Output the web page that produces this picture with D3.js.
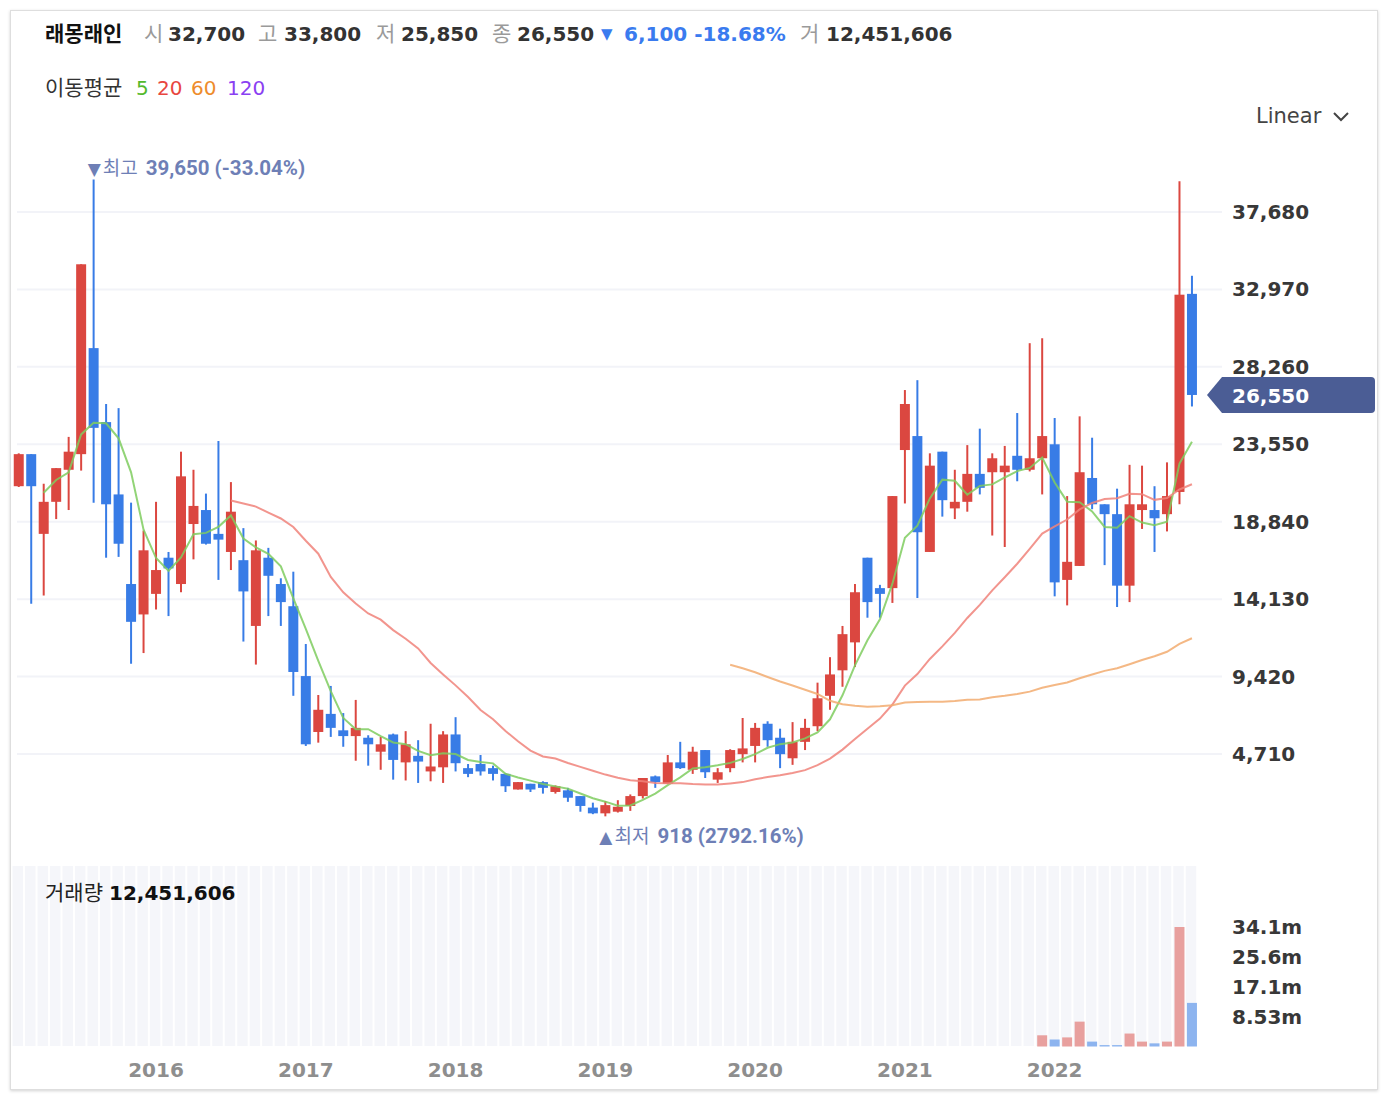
<!DOCTYPE html>
<html>
<head>
<meta charset="utf-8">
<script src="https://cdn.jsdelivr.net/npm/d3@7"></script>
<style>
  body { margin: 0; background: #fff; }
  #card {
    position: absolute; left: 10px; top: 10px; width: 1366px; height: 1078px;
    border: 1px solid #dedede; box-shadow: 0 1px 3px rgba(0,0,0,0.18); background: #fff;
  }
  svg { position: absolute; left: 0; top: 0; }
  text { font-family: "DejaVu Sans", "Noto Sans CJK KR", sans-serif; }
  .kr { font-family: "Noto Sans CJK KR", sans-serif; }
</style>
</head>
<body>
<div id="card"></div>
<svg id="chart" width="1388" height="1100"></svg>
<script>
// monthly candles, Feb 2015 .. Dec 2022
const months = [
  "2015-02","2015-03","2015-04","2015-05","2015-06","2015-07","2015-08","2015-09","2015-10","2015-11","2015-12",
  "2016-01","2016-02","2016-03","2016-04","2016-05","2016-06","2016-07","2016-08","2016-09","2016-10","2016-11","2016-12",
  "2017-01","2017-02","2017-03","2017-04","2017-05","2017-06","2017-07","2017-08","2017-09","2017-10","2017-11","2017-12",
  "2018-01","2018-02","2018-03","2018-04","2018-05","2018-06","2018-07","2018-08","2018-09","2018-10","2018-11","2018-12",
  "2019-01","2019-02","2019-03","2019-04","2019-05","2019-06","2019-07","2019-08","2019-09","2019-10","2019-11","2019-12",
  "2020-01","2020-02","2020-03","2020-04","2020-05","2020-06","2020-07","2020-08","2020-09","2020-10","2020-11","2020-12",
  "2021-01","2021-02","2021-03","2021-04","2021-05","2021-06","2021-07","2021-08","2021-09","2021-10","2021-11","2021-12",
  "2022-01","2022-02","2022-03","2022-04","2022-05","2022-06","2022-07","2022-08","2022-09","2022-10","2022-11","2022-12"
];
const opens = [
  21000,22950,18100,20050,22000,22950,29400,24900,20500,15050,13200,
  14450,16650,15050,18700,19550,18100,17000,16500,12500,16650,15050,13700,
  9450,6050,7150,6150,5800,5700,4850,5900,4200,4600,3650,3900,
  5900,3850,4100,3850,3500,2550,2900,3000,2400,2500,2150,1450,
  1100,1200,1550,2150,3350,2900,4200,3750,4950,3150,3850,4700,
  5200,6550,5700,4450,5450,6400,8250,9800,11500,16650,14800,14800,
  23200,24050,17000,23100,19650,20050,21750,21850,21850,22850,22000,22700,
  23550,15300,16150,21500,19900,19300,14950,19550,19550,19300,20650,32700
];
const highs = [
  23000,22950,21150,22100,24000,34500,39650,26000,25750,20000,18300,
  20050,17000,23100,22000,20550,23750,21250,18450,17700,17250,15400,15800,
  11400,8300,8850,7200,8000,5850,5750,5950,6100,5550,6550,6100,
  6950,4100,4650,4000,3550,3000,2900,3050,2800,2650,2150,1750,
  1850,1900,2250,3250,3400,4650,5450,5150,4950,3850,5000,6900,
  6600,6700,6250,6650,6850,9050,10600,12500,15050,16650,15000,20400,
  26850,27450,23000,23100,22000,23500,24500,23000,23450,25450,29700,30000,
  25150,20400,25250,23950,19900,20850,22300,22250,21000,22450,39550,33800
];
const lows = [
  20950,13850,14350,19000,19550,21950,20000,16650,16700,10200,10850,
  13500,13100,14550,16550,17450,15300,15900,11550,10150,13100,12500,8250,
  5200,5400,5750,5150,4300,4000,3750,3150,3100,2950,3050,2950,
  3650,3300,3400,3100,2400,2550,2400,2300,2300,1800,1200,1050,
  918,1150,1250,2000,2650,2900,3800,3500,3250,2950,3600,4200,
  4200,5150,3850,4050,4950,6100,7400,8800,10000,13000,13000,13900,
  19950,14200,17000,19150,19000,19450,20500,18000,17300,21300,21900,20500,
  14300,13750,16150,19600,16200,13650,13950,18400,17000,18250,19900,25850
];
const closes = [
  22950,21000,20050,22100,23100,34500,24550,19900,17500,12750,17100,
  15900,16000,21600,19800,17500,17750,19450,14600,17100,15550,13950,9700,
  5300,7400,6300,5800,6300,5300,5300,4350,5300,4250,3950,5900,
  4150,3500,3650,3500,2750,3000,2550,2650,2750,2050,1550,1100,
  1600,1500,2150,3250,3000,4200,3850,4850,3600,3600,4950,5050,
  6300,5550,4700,5450,6300,8100,9550,12000,14550,13950,14450,20400,
  26000,18200,22250,20150,20050,21750,20900,22700,22250,22000,22700,24050,
  15150,16400,21850,19900,19300,14950,19900,19900,19050,20400,32650,26550
];
// closes of the two months before the visible range (moving average warm-up)
const priorCloses = [18200, 20800];

// volume is only reported from Dec 2021
const volMonths = ["2021-12","2022-01","2022-02","2022-03","2022-04","2022-05","2022-06",
                   "2022-07","2022-08","2022-09","2022-10","2022-11","2022-12"];
const volumes = [3200000, 2000000, 2600000, 7100000, 1400000, 400000, 400000,
                 3700000, 1400000, 900000, 1400000, 34120000, 12451606];

const priceTicks = [4710, 9420, 14130, 18840, 23550, 28260, 32970, 37680];
const yearTicks = ["2016-01","2017-01","2018-01","2019-01","2020-01","2021-01","2022-01"];
const maPeriods = [5, 20, 60, 120];
const maColors = ["#53b92c", "#e8463f", "#ee8c2c", "#8a40f2"];
const maLineColors = ["#7fcc5f", "#f0837a", "#f2ac70", "#a06cf0"];

const UP = "#db4740", DOWN = "#387ce6";
const UP_V = "#e8a09e", DOWN_V = "#8db4ef";
const LABEL = "#6e7fb6";

const candles = months.map((m, i) => ({
  m, o: opens[i], h: highs[i], l: lows[i], c: closes[i]
}));

// plain hyphen for negative numbers
const locale = d3.formatLocale({decimal: ".", thousands: ",", grouping: [3], currency: ["", ""], minus: "-"});
const fmt = locale.format(",");
const pctFmt = locale.format(".2f");

const svg = d3.select("#chart");

const x = d3.scaleBand().domain(months).range([12.5, 1198.2]).paddingInner(0.2).paddingOuter(0.1);
const bw = x.bandwidth();
const cx = m => x(m) + bw / 2;
const y = d3.scaleLinear().domain([4710, 37680]).range([754, 212]);

// ---- header ----
const last = candles[candles.length - 1];
const prevClose = candles[candles.length - 2].c;
const chg = last.c - prevClose;
const head = svg.append("g");
function htext(xp, str, opts) {
  return head.append("text").attr("x", xp).attr("y", opts.y || 41)
    .attr("class", opts.kr ? "kr" : null)
    .attr("font-size", opts.size || 20)
    .attr("font-weight", opts.bold ? "bold" : "normal")
    .attr("fill", opts.color || "#333")
    .text(str);
}
htext(45, "래몽래인", {kr: true, size: 21, bold: true, color: "#111"});
htext(144, "시", {kr: true, size: 21, color: "#9a9a9a"});
htext(168, fmt(last.o), {bold: true});
htext(258, "고", {kr: true, size: 21, color: "#9a9a9a"});
htext(284, fmt(last.h), {bold: true});
htext(376, "저", {kr: true, size: 21, color: "#9a9a9a"});
htext(401, fmt(last.l), {bold: true});
htext(492, "종", {kr: true, size: 21, color: "#9a9a9a"});
htext(517, fmt(last.c), {bold: true});
htext(601, chg < 0 ? "▼" : "▲", {size: 15, color: "#3a7bef", y: 39});
htext(624, fmt(Math.abs(chg)) + " " + pctFmt(chg / prevClose * 100) + "%", {bold: true, color: "#3a7bef"});
htext(800, "거", {kr: true, size: 21, color: "#9a9a9a"});
htext(826, fmt(volumes[volumes.length - 1]), {bold: true});

// moving average legend
htext(45, "이동평균", {kr: true, size: 21, color: "#333", y: 95});
const legendX = [136, 157, 191, 227];
maPeriods.forEach((p, i) => {
  htext(legendX[i], String(p), {size: 20, color: maColors[i], y: 95});
});

// scale switch
htext(1256, "Linear", {size: 21, color: "#444", y: 123});
svg.append("path").attr("d", "M1334,113 L1341,120 L1348,113")
  .attr("fill", "none").attr("stroke", "#444").attr("stroke-width", 2);

// ---- grid + axis ----
svg.append("g").selectAll("line").data(priceTicks).join("line")
  .attr("x1", 17).attr("x2", 1222)
  .attr("y1", d => y(d)).attr("y2", d => y(d))
  .attr("stroke", "#f2f3f8").attr("stroke-width", 2);

svg.append("g").selectAll("text").data(priceTicks).join("text")
  .attr("x", 1232).attr("y", d => y(d) + 7)
  .attr("font-size", 20).attr("font-weight", "bold").attr("fill", "#383838")
  .text(d => fmt(d));

// ---- candles ----
const cg = svg.append("g");
cg.selectAll("line").data(candles).join("line")
  .attr("x1", d => cx(d.m)).attr("x2", d => cx(d.m))
  .attr("y1", d => y(d.h)).attr("y2", d => y(d.l))
  .attr("stroke", d => d.c >= d.o ? UP : DOWN).attr("stroke-width", 2);
cg.selectAll("rect").data(candles).join("rect")
  .attr("x", d => x(d.m)).attr("width", bw)
  .attr("y", d => y(Math.max(d.o, d.c)))
  .attr("height", d => Math.max(1.5, Math.abs(y(d.o) - y(d.c))))
  .attr("fill", d => d.c >= d.o ? UP : DOWN);

// ---- moving averages ----
const allCloses = priorCloses.concat(closes);
function movingAvg(n) {
  return closes.map((c, i) => {
    const j = i + priorCloses.length;
    if (j < n - 1) return null;
    return d3.mean(allCloses.slice(j - n + 1, j + 1));
  });
}
const line = d3.line()
  .defined(d => d.v != null)
  .x(d => cx(d.m)).y(d => y(d.v));
maPeriods.forEach((p, k) => {
  const vals = movingAvg(p);
  const pts = months.map((m, i) => ({m, v: vals[i]}));
  svg.append("path").datum(pts)
    .attr("d", line)
    .attr("fill", "none")
    .attr("stroke", maLineColors[k])
    .attr("stroke-width", 2)
    .attr("stroke-opacity", 0.85);
});

// ---- high / low annotations ----
const hiIdx = d3.maxIndex(candles, d => d.h);
const loIdx = d3.minIndex(candles, d => d.l);
function annot(idx, val, isHigh, yText) {
  const c = candles[idx];
  const x0 = cx(c.m) - 6;
  const pct = (last.c / val - 1) * 100;
  const t = svg.append("text").attr("x", x0).attr("y", yText).attr("fill", LABEL);
  t.append("tspan").attr("font-size", 17).text(isHigh ? "▼" : "▲");
  t.append("tspan").attr("class", "kr").attr("dx", 2).attr("font-size", 19).text(isHigh ? "최고" : "최저");
  t.append("tspan").attr("dx", 8).attr("font-size", 20.5).attr("font-weight", "bold")
    .style("font-family", "Roboto, sans-serif")
    .text(fmt(val) + " (" + pctFmt(pct) + "%)");
}
annot(hiIdx, candles[hiIdx].h, true, 175);
annot(loIdx, candles[loIdx].l, false, 843);

// ---- current price tag ----
const yc = y(last.c);
svg.append("path")
  .attr("d", `M1207,${yc} L1222,${yc - 18} H1371 Q1375,${yc - 18} 1375,${yc - 14} V${yc + 14} Q1375,${yc + 18} 1371,${yc + 18} H1222 Z`)
  .attr("fill", "#4b5d95");
svg.append("text").attr("x", 1232).attr("y", yc + 8)
  .attr("font-size", 20).attr("font-weight", "bold").attr("fill", "#fff")
  .text(fmt(last.c));

// ---- volume panel ----
const vy = d3.scaleLinear().domain([0, d3.max(volumes)]).range([1046.5, 927]);
svg.append("g").selectAll("rect").data(months).join("rect")
  .attr("x", d => x(d) - 1.2).attr("width", x.step() - 2)
  .attr("y", 866).attr("height", 180)
  .attr("fill", "#f5f6fa");

const vols = volMonths.map((m, i) => ({m, v: volumes[i], c: candles[months.indexOf(m)]}));
svg.append("g").selectAll("rect").data(vols).join("rect")
  .attr("x", d => x(d.m)).attr("width", bw)
  .attr("y", d => vy(d.v)).attr("height", d => vy(0) - vy(d.v))
  .attr("fill", d => d.c.c >= d.c.o ? UP_V : DOWN_V);

const vmax = d3.max(volumes);
const volTicks = [1, 2, 3, 4].map(k => vmax * k / 4);
svg.append("g").selectAll("text").data(volTicks).join("text")
  .attr("x", 1232).attr("y", d => vy(d) + 7)
  .attr("font-size", 20).attr("font-weight", "bold").attr("fill", "#383838")
  .text(d => d3.format(".3s")(d).replace("M", "m"));

const vt = svg.append("text").attr("x", 45).attr("y", 900);
vt.append("tspan").attr("class", "kr").attr("font-size", 21).attr("fill", "#222").text("거래량");
vt.append("tspan").attr("dx", 6).attr("font-size", 20).attr("font-weight", "bold").attr("fill", "#111")
  .text(fmt(volumes[volumes.length - 1]));

// ---- x axis years ----
svg.append("g").selectAll("text").data(yearTicks).join("text")
  .attr("x", d => cx(d)).attr("y", 1077)
  .attr("text-anchor", "middle")
  .attr("font-size", 20).attr("font-weight", "bold").attr("fill", "#8e8e8e")
  .text(d => d.slice(0, 4));
</script>
</body>
</html>
